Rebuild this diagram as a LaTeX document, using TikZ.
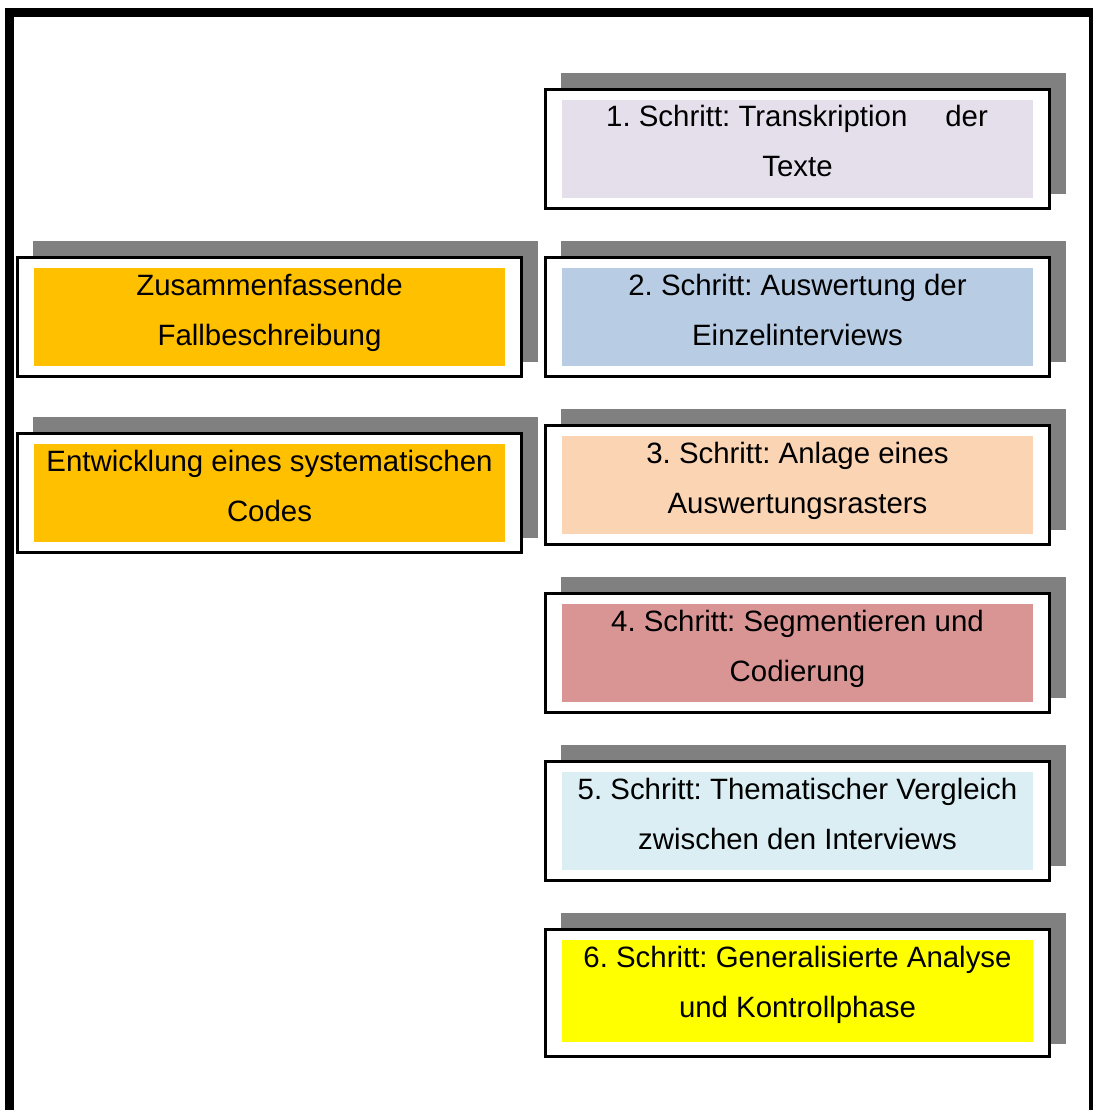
\documentclass[tikz,border=0pt]{standalone}
\usepackage{fontspec}
\setmainfont{Liberation Sans}
\frenchspacing
\definecolor{shadowgray}{HTML}{808080}
\definecolor{cone}{HTML}{E5DFEC}
\definecolor{ctwo}{HTML}{B8CCE4}
\definecolor{cthree}{HTML}{FBD4B4}
\definecolor{cfour}{HTML}{D99594}
\definecolor{cfive}{HTML}{DAEEF3}
\definecolor{csix}{HTML}{FFFF00}
\definecolor{corange}{HTML}{FFC000}
\newcommand\mystepbox[7]{%
  % #1 name, #2 left x, #3 top y, #4 extra height, #5 colour, #6 line1, #7 line2
  \fill[shadowgray] ({#2+17},{#3-15}) rectangle ({#2+522},{#3+106+1.25*#4});
  \draw[frame] ({#2+1.5},{#3+1.5}) rectangle ({#2+505.5},{#3+120.5+#4});
  \fill[#5] ({#2+18},{#3+12}) rectangle ({#2+489},{#3+110+0.5*#4});
  \node[txt] (#1a) at ({#2+253.5},{#3+39}) {#6};
  \node[txt] (#1b) at ({#2+253.5},{#3+89}) {#7};
}
\begin{document}
\begin{tikzpicture}[x=1pt,y=-1pt,
  frame/.style={draw=black,line width=3pt,fill=white},
  txt/.style={inner sep=0pt,anchor=base,font=\fontsize{29.4}{35}\selectfont}]
\useasboundingbox (0,0) rectangle (1093,1110);
% outer frame
\fill[black] (5,8) rectangle (1093,17);
\fill[black] (5,8) rectangle (14,1110);
\fill[black] (1089,8) rectangle (1093,1110);
% step 1 (justified first line)
\fill[shadowgray] (561,73) rectangle (1066,194);
\draw[frame] (545.5,89.5) rectangle (1049.5,208.5);
\fill[cone] (562,100) rectangle (1033,198);
\node[txt,anchor=base west] (s1a) at (606,127) {1. Schritt: Transkription};
\node[txt,anchor=base east] (s1c) at (988,127) {der};
\node[txt] (s1b) at (797.5,177) {Texte};
% steps 2-6
\mystepbox{s2}{544}{256}{0}{ctwo}{2. Schritt: Auswertung der}{Einzelinterviews}
\mystepbox{s3}{544}{424}{0}{cthree}{3. Schritt: Anlage eines}{Auswertungsrasters}
\mystepbox{s4}{544}{592}{0}{cfour}{4. Schritt: Segmentieren und}{Codierung}
\mystepbox{s5}{544}{760}{0}{cfive}{5. Schritt: Thematischer Vergleich}{zwischen den Interviews}
\mystepbox{s6}{544}{928}{8}{csix}{6. Schritt: Generalisierte Analyse}{und Kontrollphase}
% left boxes
\mystepbox{l1}{16}{256}{0}{corange}{Zusammenfassende}{Fallbeschreibung}
\mystepbox{l2}{16}{432}{0}{corange}{Entwicklung eines systematischen}{Codes}
\end{tikzpicture}
\end{document}
